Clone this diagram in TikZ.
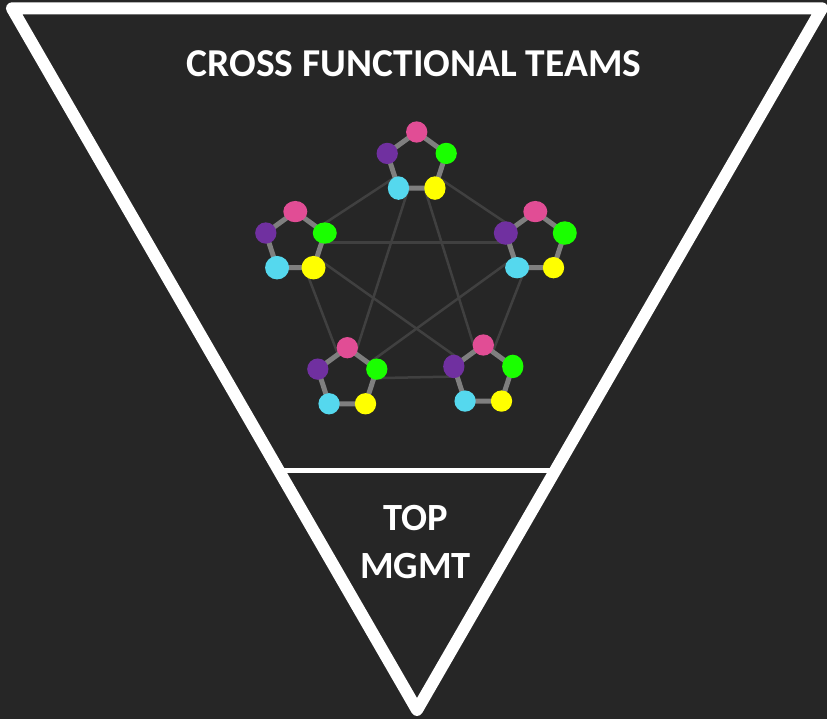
\documentclass[tikz,border=0pt]{standalone}
\usepackage{fontspec}
\setmainfont{Carlito}
\usetikzlibrary{shapes.geometric,calc}

\definecolor{bg}{HTML}{262626}
\definecolor{edgegray}{HTML}{7F7F7F}
\definecolor{linkgray}{HTML}{404040}
\definecolor{dpink}{HTML}{E14D95}
\definecolor{dpurple}{HTML}{7030A0}
\definecolor{dgreen}{HTML}{1AFF00}
\definecolor{dcyan}{HTML}{55D8EE}
\definecolor{dyellow}{HTML}{FFFF00}

\tikzset{
  dot/.style={ellipse, inner sep=0pt, draw=none, minimum width=21.3pt, minimum height=21.3pt},
  wide/.style={minimum width=24pt},
  tall/.style={minimum height=23.5pt},
  plain/.style={},
  ring/.style={fill=bg, draw=edgegray, line width=5pt, line join=round},
  link/.style={draw=linkgray, line width=2.5pt},
  frame/.style={draw=white, line width=12pt, line join=round},
  label/.style={text=white, align=center, inner sep=0pt},
  bigtext/.style={label, font=\bfseries\fontsize{39.5}{48}\selectfont},
  smalltext/.style={label, font=\bfseries\fontsize{38.5}{48}\selectfont},
}

% one team: a ring of five members around a centre coordinate
% #1 name, #2 #3 unused, #4..#8 size styles of pink, purple, green, cyan, yellow
\newcommand\team[8]{%
  \filldraw[ring] ($(#1)+(0,-31)$) -- ($(#1)+(29.48,-9.58)$) -- ($(#1)+(18.22,25.08)$)
     -- ($(#1)+(-18.22,25.08)$) -- ($(#1)+(-29.48,-9.58)$) -- cycle;
  \node[dot, fill=dpink,   #4] (#1-p) at ($(#1)+(0,-31)$) {};
  \node[dot, fill=dpurple, #5] (#1-v) at ($(#1)+(-29.48,-9.58)$) {};
  \node[dot, fill=dgreen,  #6] (#1-g) at ($(#1)+(29.48,-9.58)$) {};
  \node[dot, fill=dcyan,   #7] (#1-c) at ($(#1)+(-18.22,25.08)$) {};
  \node[dot, fill=dyellow, #8] (#1-y) at ($(#1)+(18.22,25.08)$) {};
}

\begin{document}
\begin{tikzpicture}[x=1pt, y=-1pt]
  \fill[bg] (0,0) rectangle (827,719);
  \useasboundingbox (0,0) rectangle (827,719);

  % team centres
  \coordinate (t)  at (416.7,163);
  \coordinate (l)  at (295.3,242.6);
  \coordinate (r)  at (535.3,242.6);
  \coordinate (bl) at (347.3,378.7);
  \coordinate (br) at (483.3,376);

  % every team linked to every other
  \foreach \a/\b in {t/l, t/r, t/bl, t/br, l/r, l/bl, l/br, r/bl, r/br, bl/br}
    \draw[link] (\a) -- (\b);

  \team{t}{}{}{plain}{plain}{plain}{tall}{tall}
  \team{l}{}{}{wide}{plain}{wide}{wide,tall}{wide,tall}
  \team{r}{}{}{wide}{wide,tall}{wide,tall}{wide}{plain}
  \team{bl}{}{}{plain}{plain}{plain}{plain}{plain}
  \team{br}{}{}{plain}{tall}{tall}{plain}{plain}

  % divider and inverted triangle
  \draw[white, line width=5pt] (280,470.5) -- (554,470.5);
  \draw[frame] (12,8.3) -- (822,8.3) -- (417,710) -- cycle;

  % labels
  \node[bigtext, anchor=base] (title) at (414,76.5) {CROSS FUNCTIONAL TEAMS};
  \node[smalltext, anchor=base] (top)   at (415.5,530) {TOP};
  \node[smalltext, anchor=base] (mgmt)  at (415.5,578) {MGMT};
\end{tikzpicture}
\end{document}
